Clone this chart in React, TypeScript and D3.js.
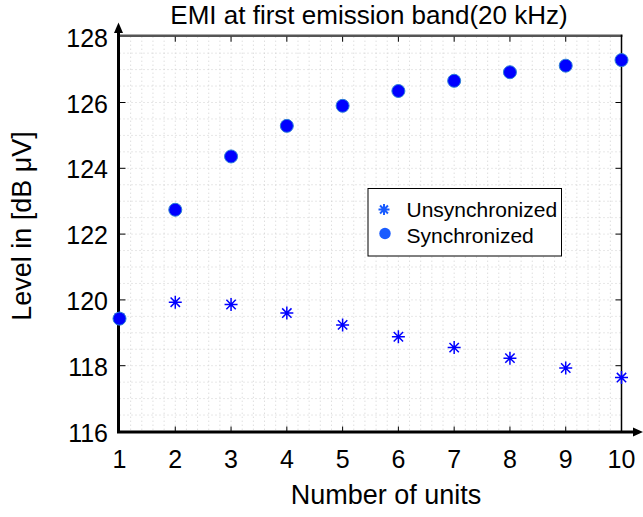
import React, { useEffect, useRef } from 'react';
import * as d3 from 'd3';

const units = [1, 2, 3, 4, 5, 6, 7, 8, 9, 10];
const unsynchronized = [119.45, 119.93, 119.86, 119.6, 119.24, 118.88, 118.55, 118.23, 117.93, 117.64];
const synchronized = [119.43, 122.74, 124.36, 125.29, 125.9, 126.35, 126.66, 126.92, 127.12, 127.29];
const yTicks = [116, 118, 120, 122, 124, 126, 128];
const legendLabels = ['Unsynchronized', 'Synchronized'];

const FONT = '"Liberation Sans", Arial, sans-serif';
const BLUE = '#0000ff';

const asteriskPath = (r: number) => {
  const d = r * 0.72;
  return `M0,${-r}V${r}M${-r},0H${r}M${-d},${-d}L${d},${d}M${-d},${d}L${d},${-d}`;
};

const App = () => {
  const ref = useRef<SVGSVGElement>(null);

  useEffect(() => {
    const svg = d3.select(ref.current);
    svg.selectAll('*').remove();

    const left = 119.5;
    const right = 621.5;
    const top = 36.7;
    const bottom = 431.5;

    const x = d3.scaleLinear().domain([1, 10]).range([left, right]);
    const y = d3.scaleLinear().domain([116, 128]).range([bottom, top]);

    // minor dotted grid
    const grid = svg.append('g');
    grid
      .selectAll('.vg')
      .data(d3.range(1.2, 10, 0.2))
      .enter()
      .append('line')
      .attr('x1', (d) => x(d))
      .attr('x2', (d) => x(d))
      .attr('y1', top)
      .attr('y2', bottom)
      .attr('stroke', '#cfcfcf')
      .attr('stroke-width', 1)
      .attr('stroke-dasharray', '1,3');
    grid
      .selectAll('.hg')
      .data(d3.range(116.5, 128, 0.5))
      .enter()
      .append('line')
      .attr('x1', left)
      .attr('x2', right)
      .attr('y1', (d) => y(d))
      .attr('y2', (d) => y(d))
      .attr('stroke', '#cfcfcf')
      .attr('stroke-width', 1)
      .attr('stroke-dasharray', '1,3');

    // box: top and right
    svg.append('line').attr('x1', left).attr('x2', right + 1).attr('y1', top - 1).attr('y2', top - 1)
      .attr('stroke', '#555').attr('stroke-width', 2.5);
    svg.append('line').attr('x1', right).attr('x2', right).attr('y1', top - 2).attr('y2', bottom)
      .attr('stroke', '#000').attr('stroke-width', 1.5);

    // inward ticks
    const ticks = svg.append('g').attr('stroke', '#000').attr('stroke-width', 1);
    units.slice(1, -1).forEach((u) => {
      ticks.append('line').attr('x1', x(u)).attr('x2', x(u)).attr('y1', top).attr('y2', top + 5);
      ticks.append('line').attr('x1', x(u)).attr('x2', x(u)).attr('y1', bottom).attr('y2', bottom - 5);
    });
    yTicks.slice(1, -1).forEach((t) => {
      ticks.append('line').attr('x1', left).attr('x2', left + 6).attr('y1', y(t)).attr('y2', y(t));
      ticks.append('line').attr('x1', right).attr('x2', right - 6).attr('y1', y(t)).attr('y2', y(t));
    });

    // axes with arrows
    svg.append('line').attr('x1', left - 1).attr('x2', left - 1).attr('y1', bottom + 1.5).attr('y2', 30)
      .attr('stroke', '#000').attr('stroke-width', 3);
    svg.append('path').attr('d', `M${left - 1},22.5L${left - 5.5},33L${left + 3.5},33Z`).attr('fill', '#000');
    svg.append('line').attr('x1', left - 2.5).attr('x2', 636).attr('y1', bottom + 0.5).attr('y2', bottom + 0.5)
      .attr('stroke', '#000').attr('stroke-width', 3);
    svg.append('path').attr('d', `M643,${bottom + 0.5}L633,${bottom - 4}L633,${bottom + 5}Z`).attr('fill', '#000');

    // tick labels
    svg
      .selectAll('.xl')
      .data(units)
      .enter()
      .append('text')
      .attr('x', (d) => x(d))
      .attr('y', 468)
      .attr('text-anchor', 'middle')
      .attr('font-family', FONT)
      .attr('font-size', 25)
      .text((d) => d);
    svg
      .selectAll('.yl')
      .data(yTicks)
      .enter()
      .append('text')
      .attr('x', 108)
      .attr('y', (d) => y(d) + 10)
      .attr('text-anchor', 'end')
      .attr('font-family', FONT)
      .attr('font-size', 25)
      .text((d) => d);

    // series
    svg
      .append('g')
      .selectAll('path')
      .data(units)
      .enter()
      .append('path')
      .attr('transform', (d, i) => `translate(${x(d)},${y(unsynchronized[i])})`)
      .attr('d', asteriskPath(6.5))
      .attr('stroke', BLUE)
      .attr('stroke-width', 1.5)
      .attr('fill', 'none');
    svg
      .append('g')
      .selectAll('circle')
      .data(units)
      .enter()
      .append('circle')
      .attr('cx', (d) => x(d))
      .attr('cy', (d, i) => y(synchronized[i]))
      .attr('r', 6.5)
      .attr('fill', BLUE)
      .attr('stroke', '#2a7fd6')
      .attr('stroke-width', 1);

    // legend
    const lg = svg.append('g');
    lg.append('rect').attr('x', 368).attr('y', 188.5).attr('width', 193.5).attr('height', 67.5)
      .attr('fill', '#fff').attr('stroke', '#000').attr('stroke-width', 1);
    lg.append('path').attr('transform', 'translate(384,209.5)').attr('d', asteriskPath(5.5))
      .attr('stroke', '#1a5cff').attr('stroke-width', 2).attr('fill', 'none');
    lg.append('circle').attr('cx', 385).attr('cy', 233.5).attr('r', 5.7).attr('fill', '#1a5cff');
    legendLabels.forEach((t, i) => {
      lg.append('text').attr('x', 406.5).attr('y', 216.5 + i * 26.5)
        .attr('font-family', FONT).attr('font-size', 21).text(t);
    });

    // titles
    svg.append('text').attr('x', 369).attr('y', 24).attr('text-anchor', 'middle')
      .attr('font-family', FONT).attr('font-size', 26).text('EMI at first emission band(20 kHz)');
    svg.append('text').attr('x', 386).attr('y', 504).attr('text-anchor', 'middle')
      .attr('font-family', FONT).attr('font-size', 27).text('Number of units');
    svg.append('text').attr('transform', 'translate(31,226) rotate(-90)').attr('text-anchor', 'middle')
      .attr('font-family', FONT).attr('font-size', 27).text('Level in [dB μV]');
  }, []);

  return (
    <svg
      ref={ref}
      width={643}
      height={517}
      style={{ position: 'absolute', left: 0, top: 0, background: '#fff' }}
    />
  );
};

export default App;
